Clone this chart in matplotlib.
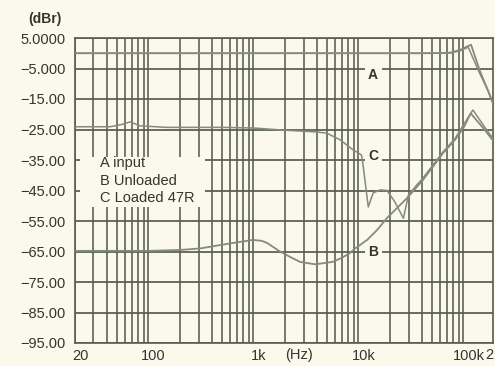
import matplotlib
matplotlib.use("Agg")
import matplotlib.pyplot as plt
import matplotlib.transforms as mtransforms
import numpy as np

freq_a = [20, 1000, 10000, 50000, 75000, 93000, 105000, 118000, 144000, 170000, 195000]
niv_a = [0, 0, 0, 0, 0.2, 1.1, 2.0, 2.8, -6.0, -12.0, -17.0]
freq_a2 = [20, 1000, 10000, 50000, 75000, 93000, 111000, 140000, 170000, 195000]
niv_a2 = [0, 0, 0, 0, 0.1, 0.8, 2.0, -6.0, -12.0, -17.5]

freq_b = [20, 100, 200, 310, 500, 640, 990, 1200, 1350, 1790, 2300, 2780, 3860,
          5700, 7000, 8300, 9300, 12100, 15000, 18700, 29000, 41000, 64000,
          83000, 100000, 117000, 154000, 195000]
niv_b = [-64.8, -64.8, -64.5, -64.0, -62.8, -62.2, -61.2, -61.5, -62.2, -65.0,
         -67.0, -68.4, -69.2, -68.4, -67.0, -65.5, -64.0, -61.2, -58.0, -54.0,
         -47.5, -41.6, -32.7, -28.4, -24.5, -19.7, -24.5, -29.0]

freq_c = [20, 43, 55, 67, 83, 150, 500, 1000, 1900, 4000, 5000, 6700, 8900,
          10300, 10700, 11000, 12400, 13800, 16100, 18700, 22000, 26800, 29900,
          35900, 41000, 64000, 83000, 100000, 123000, 154000, 195000]
niv_c = [-24.1, -24.1, -23.4, -22.5, -23.8, -24.3, -24.3, -24.5, -25.2, -25.8,
         -26.2, -28.4, -31.7, -33.0, -33.5, -36.0, -50.4, -45.8, -44.8, -45.0,
         -48.5, -54.1, -46.5, -43.2, -41.0, -32.3, -28.0, -23.5, -18.6, -23.5,
         -28.4]

yticks = [5, -5, -15, -25, -35, -45, -55, -65, -75, -85, -95]
ylabels = ["5.0000", "−5.000", "−15.00", "−25.00", "−35.00", "−45.00",
           "−55.00", "−65.00", "−75.00", "−85.00", "−95.00"]
xticks = [20, 100, 1000, 10000, 100000]
xlabels = ["20", "100", "1k", "10k", "100k"]
legende = ["A input", "B Unloaded", "C Loaded 47R"]

fond = "#fbf8ec"
grille = "#565d4d"
trace = "#858a7e"
encre = "#35352f"

plt.rcParams['font.family'] = ['Liberation Sans', 'DejaVu Sans']

fig = plt.figure(figsize=(4.95, 3.66), dpi=100, facecolor=fond)
ax = fig.add_axes([75 / 495, 23 / 366, 418 / 495, 305 / 366], facecolor=fond)

ax.set_xscale("log")
ax.set_xlim(20, 191000)
ax.set_ylim(-95, 5)

# grille logarithmique complete
mineurs = [m * 10 ** d for d in range(1, 6) for m in range(1, 10)]
mineurs = [f for f in mineurs if 20 <= f <= 191000]
ax.set_xticks(mineurs, minor=True)
ax.set_xticks(xticks)
ax.set_xticklabels(xlabels)
ax.set_yticks(yticks)
ax.set_yticklabels(ylabels)
ax.grid(True, which="both", axis="x", color=grille, lw=1.15)
ax.grid(True, which="major", axis="y", color=grille, lw=1.25)
ax.set_axisbelow(True)
ax.tick_params(which="both", length=0, colors=encre)
ax.tick_params(axis="y", pad=7, labelsize=10.5)
ax.tick_params(axis="x", pad=4, labelsize=10.5)
for s in ax.spines.values():
    s.set_color(grille)
    s.set_linewidth(1.2)

# decalage des etiquettes x vers la droite comme sur l'original
decal = mtransforms.ScaledTranslation(5 / 100, 0, fig.dpi_scale_trans)
for lab in ax.get_xticklabels():
    lab.set_transform(lab.get_transform() + decal)

# etiquette 200k coupee par le bord sur l'original : seul le "2" est visible
ax.text(1.0, -0.015, "2", transform=ax.transAxes, ha="right",
        va="top", fontsize=10.5, color=encre, clip_on=False)
ax.text(0.535, -0.015, "(Hz)", transform=ax.transAxes, ha="center", va="top",
        fontsize=10.5, color=encre)
fig.text(45 / 495, 1 - 19 / 366, "(dBr)", ha="center", va="center",
         fontsize=10, fontweight="bold", color=encre)

ax.plot(freq_a, niv_a, color=trace, lw=1.3, zorder=3)
ax.plot(freq_a2, niv_a2, color=trace, lw=1.1, zorder=3)
ax.plot(freq_b, niv_b, color=trace, lw=1.3, zorder=3)
ax.plot(freq_c, niv_c, color=trace, lw=1.1, zorder=3)

# cadre de la legende qui masque la grille
ax.add_patch(plt.Rectangle((0.012, 0.446), 0.30, 0.164, transform=ax.transAxes,
                           facecolor=fond, edgecolor="none", zorder=2))
for i, txt in enumerate(legende):
    ax.text(0.060, 0.590 - i * 0.0575, txt, transform=ax.transAxes,
            ha="left", va="center", fontsize=10.5, color=encre, zorder=4)

boite = dict(boxstyle="square,pad=0.25", facecolor=fond, edgecolor="none")
for nom, yy in [("A", 0.879), ("C", 0.613), ("B", 0.298)]:
    ax.text(0.713, yy, nom, transform=ax.transAxes, ha="center", va="center",
            fontsize=10, fontweight="bold", color=encre, bbox=boite, zorder=4)

fig.savefig("out.png", dpi=100, facecolor=fond)
